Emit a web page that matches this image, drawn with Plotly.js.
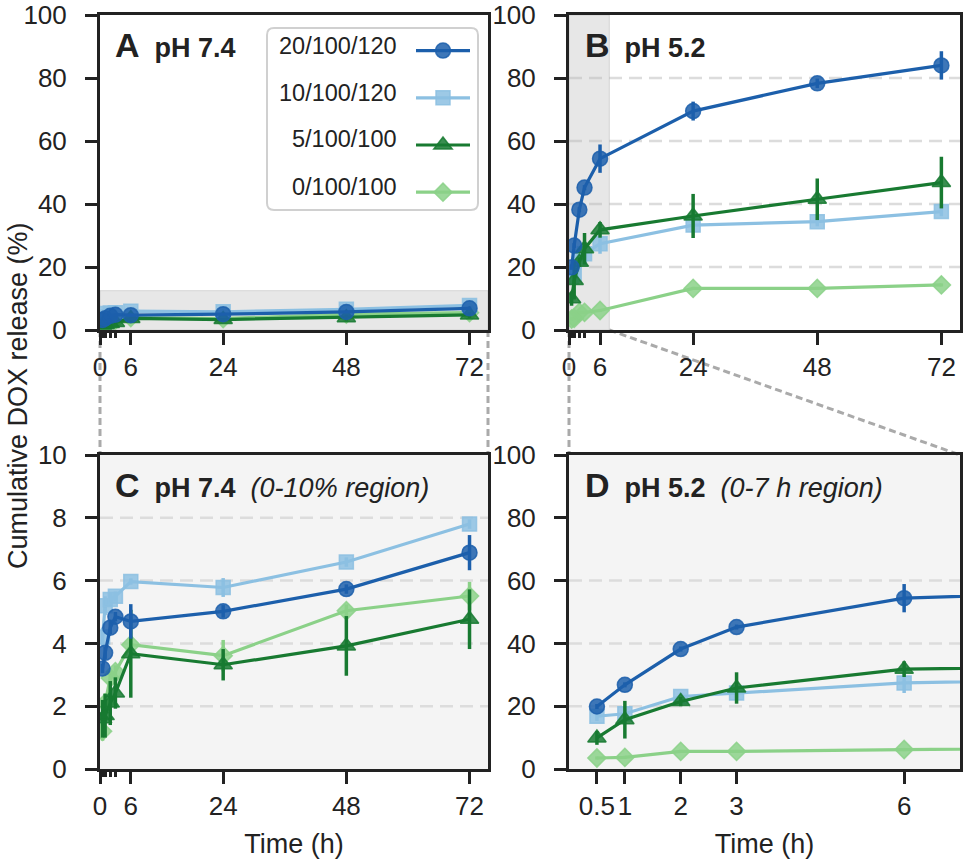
<!DOCTYPE html>
<html><head><meta charset="utf-8">
<script src="https://cdn.plot.ly/plotly-3.0.1.min.js"></script>
<style>html,body{margin:0;padding:0;background:#fff}#chart{width:967px;height:867px}</style>
</head><body><div id="chart"></div>
<script>
// ---------- data ----------
const times = [0.5, 1, 2, 3, 6, 24, 48, 72];
const seriesNames = ['20/100/120', '10/100/120', '5/100/100', '0/100/100'];

// pH 7.4
const ph74_20 = [3.2, 3.7, 4.5, 4.85, 4.7, 5.02, 5.73, 6.89];
const ph74_20_err = [0.15, 0.2, 0.2, 0.15, 0.55, 0.2, 0.15, 0.56];
const ph74_10 = [4.2, 5.2, 5.4, 5.5, 5.97, 5.78, 6.59, 7.8];
const ph74_10_err = [0.3, 0.3, 0.2, 0.15, 0.1, 0.3, 0.15, 0.15];
const ph74_5 = [1.6, 1.7, 2.1, 2.42, 3.67, 3.32, 3.92, 4.77];
const ph74_5_err = [0.6, 0.7, 0.7, 0.5, 1.4, 0.5, 0.95, 0.95];
const ph74_0 = [1.2, 2.1, 2.9, 3.1, 3.96, 3.61, 5.04, 5.51];
const ph74_0_err = [0.3, 0.3, 0.3, 0.2, 0.2, 0.5, 0.2, 0.45];

// pH 5.2
const ph52_20 = [19.9, 26.8, 38.2, 45.2, 54.4, 69.5, 78.3, 84.0];
const ph52_20_err = [0.8, 0.8, 0.8, 0.8, 4.5, 3.0, 1.5, 4.5];
const ph52_10 = [16.8, 17.6, 23.1, 24.2, 27.4, 33.3, 34.4, 37.6];
const ph52_10_err = [1.5, 1.5, 1.2, 1.5, 3.2, 1.5, 1.5, 1.5];
const ph52_5 = [9.9, 15.7, 21.5, 25.8, 31.8, 36.2, 41.5, 46.8];
const ph52_5_err = [2.2, 6.0, 1.5, 5.0, 2.5, 7.0, 6.6, 8.2];
const ph52_0 = [3.5, 3.7, 5.6, 5.6, 6.2, 13.2, 13.2, 14.3];
const ph52_0_err = [0.5, 0.5, 0.5, 0.5, 0.5, 0.5, 0.5, 0.5];

// tick labels
const xTickVals = [0, 6, 24, 48, 72];
const xMinorTickVals = [0.5, 1, 2, 3];
const dTickVals = [0.5, 1, 2, 3, 6];
const dTickText = ['0.5', '1', '2', '3', '6'];
const yTickVals100 = [0, 20, 40, 60, 80, 100];
const yTickVals10 = [0, 2, 4, 6, 8, 10];
const gridB = [20, 40, 60, 80];
const gridC = [2, 4, 6, 8];
const gridD = [20, 40, 60];

// ---------- styling ----------
const W = 967, H = 867;
const px = v => v / W;
const py = v => 1 - v / H;

const colors = ['#1c5fab', '#8cc0e2', '#187a31', '#8bd188'];
const fills = ['rgba(28,95,171,0.85)', 'rgba(140,192,226,0.85)', 'rgba(24,122,49,0.85)', 'rgba(139,209,136,0.85)'];
const symbols = ['circle', 'square', 'triangle-up', 'diamond'];
const sizes = [15, 14, 16, 14];
const drawOrder = [3, 1, 2, 0];

const ph74Values = [ph74_20, ph74_10, ph74_5, ph74_0];
const ph74Errors = [ph74_20_err, ph74_10_err, ph74_5_err, ph74_0_err];
const ph52Values = [ph52_20, ph52_10, ph52_5, ph52_0];
const ph52Errors = [ph52_20_err, ph52_10_err, ph52_5_err, ph52_0_err];

const domLeft = [px(100), px(488)];
const domRight = [px(569), px(960)];
const domTop = [py(330), py(15)];
const domBottom = [py(769), py(455)];
const xRangeFull = [0, 75.6];
const xRangeD = [0, 7];
const bandA = 12.5;   // y extent of zoom band in A
const bandB = 7.8;    // x extent of zoom band in B

const panels = [
  {xa: 'x', ya: 'y', vals: ph74Values, errs: ph74Errors, legend: true},
  {xa: 'x2', ya: 'y2', vals: ph52Values, errs: ph52Errors},
  {xa: 'x3', ya: 'y3', vals: ph74Values, errs: ph74Errors},
  {xa: 'x4', ya: 'y4', vals: ph52Values, errs: ph52Errors}
];

const traces = [];
panels.forEach(p => {
  drawOrder.forEach(i => {
    traces.push({
      type: 'scatter', mode: 'lines+markers',
      x: times, y: p.vals[i],
      xaxis: p.xa, yaxis: p.ya,
      name: p.legend ? ' ' : seriesNames[i],
      legendrank: i + 1,
      showlegend: !!p.legend,
      line: {color: colors[i], width: 3.2},
      marker: {symbol: symbols[i], size: sizes[i], color: fills[i], line: {color: fills[i], width: 1.5}},
      error_y: {type: 'data', array: p.errs[i], visible: true, color: colors[i], thickness: 3.5, width: 0},
      hovertemplate: seriesNames[i] + ': %{y}<extra></extra>'
    });
  });
});

const font = 'Liberation Sans, Arial, Helvetica, sans-serif';
const axisBase = {
  showline: true, linecolor: '#222', linewidth: 3, mirror: true,
  ticks: 'outside', ticklen: 12, tickwidth: 3, tickcolor: '#222',
  showgrid: false, zeroline: false, fixedrange: true,
  tickfont: {size: 26, color: '#222', family: font}
};
function xFull(dom, anchor, title) {
  const a = Object.assign({}, axisBase, {
    domain: dom, anchor: anchor, range: xRangeFull,
    tickmode: 'array', tickvals: xTickVals,
    minor: {tickmode: 'array', tickvals: xMinorTickVals, ticks: 'outside', ticklen: 5, tickwidth: 3, tickcolor: '#222', showgrid: false}
  });
  if (title) a.title = {text: title, font: {size: 27, color: '#222', family: font}, standoff: 14};
  return a;
}
function yAx(dom, anchor, range, vals) {
  return Object.assign({}, axisBase, {
    domain: dom, anchor: anchor, range: range,
    tickmode: 'array', tickvals: vals, ticklabelstandoff: 13
  });
}

const shapes = [];
// light backgrounds for zoomed panels
['3', '4'].forEach(n => shapes.push({type: 'rect', xref: 'x' + n + ' domain', yref: 'y' + n + ' domain', x0: 0, x1: 1, y0: 0, y1: 1, fillcolor: '#f4f4f4', line: {width: 0}, layer: 'below'}));
// gridlines
[['2', gridB], ['3', gridC], ['4', gridD]].forEach(([n, vals]) => vals.forEach(v => shapes.push({
  type: 'line', xref: 'x' + n + ' domain', yref: 'y' + n, x0: 0, x1: 1, y0: v, y1: v,
  line: {color: '#dcdcdc', width: 2.5, dash: '13px,7px'}, layer: 'below'
})));
// zoom bands
shapes.push({type: 'rect', xref: 'x domain', yref: 'y', x0: 0, x1: 1, y0: 0, y1: bandA, fillcolor: 'rgba(185,185,185,0.35)', line: {color: 'rgba(185,185,185,0.5)', width: 1}, layer: 'below'});
shapes.push({type: 'rect', xref: 'x2', yref: 'y2 domain', x0: 0, x1: bandB, y0: 0, y1: 1, fillcolor: 'rgba(185,185,185,0.35)', line: {color: 'rgba(185,185,185,0.5)', width: 1}, layer: 'below'});
// connector lines
const conn = {color: '#aaaaaa', width: 3, dash: '7px,4px'};
const bandBRight = domRight[0] + (domRight[1] - domRight[0]) * (bandB - xRangeFull[0]) / (xRangeFull[1] - xRangeFull[0]);
[
  [domLeft[0], domTop[0], domLeft[0], domBottom[1]],
  [domLeft[1], domTop[0], domLeft[1], domBottom[1]],
  [domRight[0], domTop[0], domRight[0], domBottom[1]],
  [bandBRight, domTop[0], domRight[1], domBottom[1]]
].forEach(c => shapes.push({type: 'line', xref: 'paper', yref: 'paper', x0: c[0], y0: c[1], x1: c[2], y1: c[3], line: conn, layer: 'below'}));
// legend frame (rounded)
(function () {
  const L = 267, R = 478, T = 28, B = 210, r = 7;
  const X = v => px(v).toFixed(5), Y = v => py(v).toFixed(5);
  const d = 'M' + X(L + r) + ',' + Y(T) + ' L' + X(R - r) + ',' + Y(T) + ' Q' + X(R) + ',' + Y(T) + ' ' + X(R) + ',' + Y(T + r) +
    ' L' + X(R) + ',' + Y(B - r) + ' Q' + X(R) + ',' + Y(B) + ' ' + X(R - r) + ',' + Y(B) +
    ' L' + X(L + r) + ',' + Y(B) + ' Q' + X(L) + ',' + Y(B) + ' ' + X(L) + ',' + Y(B - r) +
    ' L' + X(L) + ',' + Y(T + r) + ' Q' + X(L) + ',' + Y(T) + ' ' + X(L + r) + ',' + Y(T) + ' Z';
  shapes.push({type: 'path', xref: 'paper', yref: 'paper', path: d, fillcolor: 'rgba(255,255,255,0.9)', line: {color: '#d0d0d0', width: 2}, layer: 'above'});
})();

const annotations = [];
const labelFont = {size: 27, color: '#222', family: font};
const big = s => '<span style="font-size:34px">' + s + '</span>';
[
  [113, 45, '<b>' + big('A') + '\u00a0\u00a0pH 7.4</b>'],
  [583, 45, '<b>' + big('B') + '\u00a0\u00a0pH 5.2</b>'],
  [113, 485, '<b>' + big('C') + '\u00a0\u00a0pH 7.4</b>\u00a0\u00a0<i>(0-10% region)</i>'],
  [583, 485, '<b>' + big('D') + '\u00a0\u00a0pH 5.2</b>\u00a0\u00a0<i>(0-7 h region)</i>']
].forEach(a => annotations.push({xref: 'paper', yref: 'paper', x: px(a[0]), y: py(a[1]), xanchor: 'left', yanchor: 'middle', text: a[2], showarrow: false, font: labelFont}));
// legend labels
const legendRows = [46, 93, 139, 187];
seriesNames.forEach((s, i) => annotations.push({xref: 'paper', yref: 'paper', x: px(399), y: py(legendRows[i]), xanchor: 'right', yanchor: 'middle', text: s, showarrow: false, font: {size: 23.5, color: '#222', family: font}}));
// shared y title
annotations.push({xref: 'paper', yref: 'paper', x: px(18), y: py(396), xanchor: 'center', yanchor: 'middle', textangle: -90, text: 'Cumulative DOX release (%)', showarrow: false, font: {size: 27, color: '#222', family: font}});

const xD = Object.assign({}, axisBase, {
  domain: domRight, anchor: 'y4', range: xRangeD, tickmode: 'array', tickvals: dTickVals, ticktext: dTickText,
  title: {text: 'Time (h)', font: {size: 27, color: '#222', family: font}, standoff: 14}
});

const layout = {
  width: W, height: H,
  margin: {l: 0, r: 0, t: 0, b: 0},
  paper_bgcolor: '#ffffff', plot_bgcolor: 'rgba(0,0,0,0)',
  font: {family: font, color: '#222'},
  showlegend: true,
  legend: {x: px(411), y: py(22), xanchor: 'left', yanchor: 'top', bgcolor: 'rgba(0,0,0,0)', borderwidth: 0,
           font: {size: 34}, itemwidth: 54, traceorder: 'normal'},
  xaxis: xFull(domLeft, 'y'),
  yaxis: yAx(domTop, 'x', [0, 100], yTickVals100),
  xaxis2: xFull(domRight, 'y2'),
  yaxis2: yAx(domTop, 'x2', [0, 100], yTickVals100),
  xaxis3: xFull(domLeft, 'y3', 'Time (h)'),
  yaxis3: yAx(domBottom, 'x3', [0, 10], yTickVals10),
  xaxis4: xD,
  yaxis4: yAx(domBottom, 'x4', [0, 100], yTickVals100),
  shapes: shapes,
  annotations: annotations
};

Plotly.newPlot('chart', traces, layout, {displayModeBar: false, staticPlot: true});
</script></body></html>
